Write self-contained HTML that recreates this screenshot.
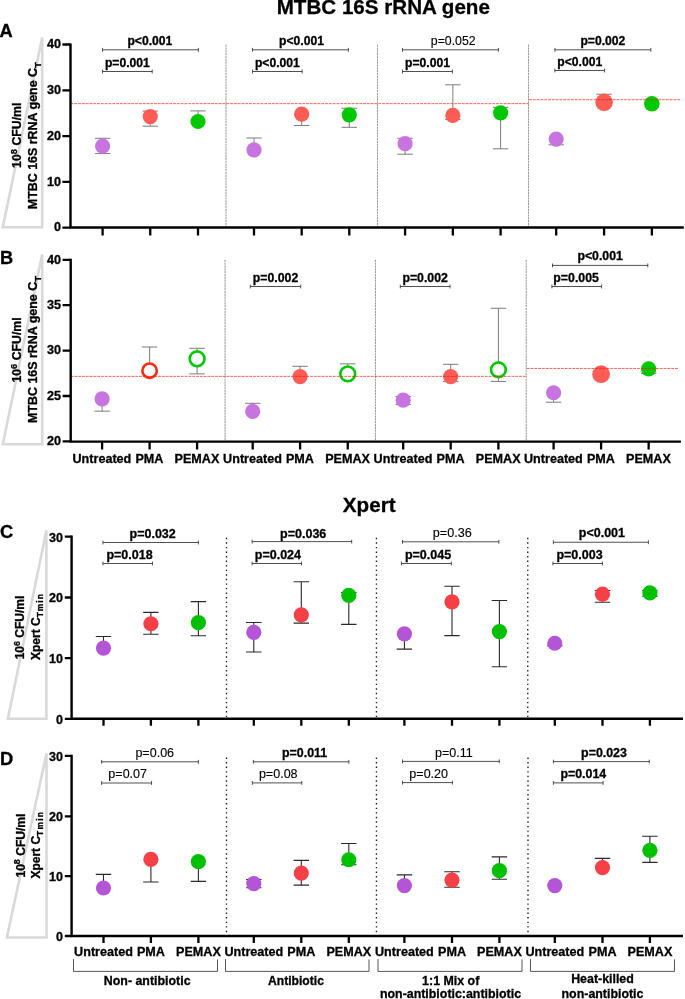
<!DOCTYPE html>
<html lang="en">
<head>
<meta charset="utf-8">
<title>MTBC 16S rRNA gene and Xpert</title>
<style>html,body{margin:0;padding:0;background:#fff}svg{display:block}</style>
</head>
<body>
<svg width="685" height="999" viewBox="0 0 685 999" font-family='"Liberation Sans", sans-serif' fill="#000">
<rect width="685" height="999" fill="#fff"/>
<text x="383.3" y="14" font-size="20.6" font-weight="bold" text-anchor="middle" stroke="#000" stroke-width="0.3">MTBC 16S rRNA gene</text>
<text x="369.2" y="511.6" font-size="20.6" font-weight="bold" text-anchor="middle" stroke="#000" stroke-width="0.3">Xpert</text>
<text x="-0.5" y="36.8" font-size="18.3" font-weight="bold" text-anchor="start" stroke="#000" stroke-width="0.3">A</text>
<text x="0" y="263.9" font-size="18.3" font-weight="bold" text-anchor="start" stroke="#000" stroke-width="0.3">B</text>
<text x="0" y="537.6" font-size="18.3" font-weight="bold" text-anchor="start" stroke="#000" stroke-width="0.3">C</text>
<text x="0" y="764.6" font-size="18.3" font-weight="bold" text-anchor="start" stroke="#000" stroke-width="0.3">D</text>
<polygon points="42.2,37.6 42.2,227.3 2.8,227.3" fill="none" stroke="#d9d9d9" stroke-width="2.6" stroke-linejoin="miter"/>
<g transform="translate(20.7,167.9) rotate(-90)">
<text x="0" y="0" font-size="12.3" font-weight="bold" text-anchor="start" stroke="#000" stroke-width="0.3">10<tspan font-size="9.3" dy="-4.1">8</tspan><tspan dy="4.1"> CFU/ml</tspan></text>
</g>
<g transform="translate(36.5,209.2) rotate(-90)">
<text x="0" y="0" font-size="12.45" font-weight="bold" text-anchor="start" stroke="#000" stroke-width="0.3">MTBC 16S rRNA gene C<tspan font-size="9.8" dy="4.0">T</tspan></text>
</g>
<line x1="226" y1="44.6" x2="226" y2="227.5" stroke="#9c9c9c" stroke-width="1.05" stroke-dasharray="2.2,0.63"/>
<line x1="377.5" y1="44.6" x2="377.5" y2="227.5" stroke="#9c9c9c" stroke-width="1.05" stroke-dasharray="2.2,0.63"/>
<line x1="528.5" y1="44.6" x2="528.5" y2="227.5" stroke="#9c9c9c" stroke-width="1.05" stroke-dasharray="2.2,0.63"/>
<path d="M102.6 138.3V153.6M94.9 138.3H110.3M94.9 153.6H110.3" stroke="#7c7c7c" stroke-width="1" fill="none"/>
<circle cx="102.6" cy="146.1" r="7.6" fill="#c774e0"/>
<path d="M150.25 111.1V126.2M142.55 111.1H157.95M142.55 126.2H157.95" stroke="#7c7c7c" stroke-width="1" fill="none"/>
<circle cx="150.25" cy="116.6" r="7.6" fill="#ff5c55"/>
<path d="M198 110.9V121.5M190.3 110.9H205.7" stroke="#7c7c7c" stroke-width="1" fill="none"/>
<circle cx="198" cy="121.5" r="7.6" fill="#00c800"/>
<path d="M254 138V149.9M246.3 138H261.7" stroke="#7c7c7c" stroke-width="1" fill="none"/>
<circle cx="254" cy="149.9" r="7.6" fill="#c774e0"/>
<path d="M301.7 114.2V125.55M294 125.55H309.4" stroke="#7c7c7c" stroke-width="1" fill="none"/>
<circle cx="301.7" cy="114.2" r="7.6" fill="#ff5c55"/>
<path d="M349.3 108.25V127.3M341.6 108.25H357M341.6 127.3H357" stroke="#7c7c7c" stroke-width="1" fill="none"/>
<circle cx="349.3" cy="114.8" r="7.6" fill="#00c800"/>
<path d="M405.1 138.25V154.2M397.4 138.25H412.8M397.4 154.2H412.8" stroke="#7c7c7c" stroke-width="1" fill="none"/>
<circle cx="405.1" cy="143.7" r="7.6" fill="#c774e0"/>
<path d="M452.85 84.8V119.5M445.15 84.8H460.55M445.15 119.5H460.55" stroke="#7c7c7c" stroke-width="1" fill="none"/>
<circle cx="452.85" cy="115.3" r="7.6" fill="#ff5c55"/>
<path d="M500.6 107.4V148.8M492.9 107.4H508.3M492.9 148.8H508.3" stroke="#7c7c7c" stroke-width="1" fill="none"/>
<circle cx="500.6" cy="112.85" r="7.6" fill="#00c800"/>
<path d="M556.2 139.1V144.8M548.5 144.8H563.9" stroke="#7c7c7c" stroke-width="1" fill="none"/>
<circle cx="556.2" cy="139.1" r="7.6" fill="#c774e0"/>
<path d="M604.1 94.25V102.35M596.4 94.25H611.8" stroke="#7c7c7c" stroke-width="1" fill="none"/>
<circle cx="604.1" cy="102.35" r="8.75" fill="#ff5c55"/>
<circle cx="651.85" cy="103.65" r="7.75" fill="#00c800"/>
<line x1="70.5" y1="103.65" x2="528.5" y2="103.65" stroke="#ff1e0f" stroke-opacity="0.7" stroke-width="1" stroke-dasharray="2.8,1"/>
<line x1="529.1" y1="99.7" x2="681.3" y2="99.7" stroke="#ff1e0f" stroke-opacity="0.7" stroke-width="1" stroke-dasharray="2.8,1"/>
<path d="M70.5 43.5V228.6M69.5 227.5H683.8" stroke="#000" stroke-width="2.4" fill="none"/>
<path d="M62.4 44.5H70.5M62.4 90.3H70.5M62.4 136.1H70.5M62.4 181.85H70.5M62.4 227.6H70.5M102.6 227.5V235.5M150.25 227.5V235.5M198 227.5V235.5M254 227.5V235.5M301.7 227.5V235.5M349.3 227.5V235.5M405.1 227.5V235.5M452.85 227.5V235.5M500.6 227.5V235.5M556.2 227.5V235.5M604.1 227.5V235.5M651.85 227.5V235.5" stroke="#000" stroke-width="2.3" fill="none"/>
<text x="61.1" y="48.2" font-size="12.6" font-weight="bold" text-anchor="end" stroke="#000" stroke-width="0.3">40</text>
<text x="61.1" y="94" font-size="12.6" font-weight="bold" text-anchor="end" stroke="#000" stroke-width="0.3">30</text>
<text x="61.1" y="139.8" font-size="12.6" font-weight="bold" text-anchor="end" stroke="#000" stroke-width="0.3">20</text>
<text x="61.1" y="185.55" font-size="12.6" font-weight="bold" text-anchor="end" stroke="#000" stroke-width="0.3">10</text>
<text x="61.1" y="231.3" font-size="12.6" font-weight="bold" text-anchor="end" stroke="#000" stroke-width="0.3">0</text>
<path d="M102.5 47.9V51.7M102.5 49.8H198.4M198.4 47.9V51.7" stroke="#3c3c3c" stroke-width="0.9" fill="none"/>
<text x="149.9" y="44.8" font-size="12.15" font-weight="bold" text-anchor="middle" stroke="#000" stroke-width="0.3">p&lt;0.001</text>
<path d="M102.5 69.6V73.4M102.5 71.5H152.2M152.2 69.6V73.4" stroke="#3c3c3c" stroke-width="0.9" fill="none"/>
<text x="127.35" y="66.5" font-size="12.15" font-weight="bold" text-anchor="middle" stroke="#000" stroke-width="0.3">p=0.001</text>
<path d="M252.5 47.9V51.7M252.5 49.8H348.4M348.4 47.9V51.7" stroke="#3c3c3c" stroke-width="0.9" fill="none"/>
<text x="301.5" y="44.8" font-size="12.15" font-weight="bold" text-anchor="middle" stroke="#000" stroke-width="0.3">p&lt;0.001</text>
<path d="M252.5 69.6V73.4M252.5 71.5H302.2M302.2 69.6V73.4" stroke="#3c3c3c" stroke-width="0.9" fill="none"/>
<text x="277.35" y="66.5" font-size="12.15" font-weight="bold" text-anchor="middle" stroke="#000" stroke-width="0.3">p&lt;0.001</text>
<path d="M402.5 47.9V51.7M402.5 49.8H498.4M498.4 47.9V51.7" stroke="#3c3c3c" stroke-width="0.9" fill="none"/>
<text x="453.25" y="45.1" font-size="12.3" font-weight="normal" text-anchor="middle" fill="#000" stroke="#000" stroke-width="0.12">p=0.052</text>
<path d="M402.5 69.6V73.4M402.5 71.5H452.4M452.4 69.6V73.4" stroke="#3c3c3c" stroke-width="0.9" fill="none"/>
<text x="427.45" y="66.5" font-size="12.15" font-weight="bold" text-anchor="middle" stroke="#000" stroke-width="0.3">p=0.001</text>
<path d="M554.9 47.9V51.7M554.9 49.8H650.8M650.8 47.9V51.7" stroke="#3c3c3c" stroke-width="0.9" fill="none"/>
<text x="602.85" y="44.8" font-size="12.15" font-weight="bold" text-anchor="middle" stroke="#000" stroke-width="0.3">p=0.002</text>
<path d="M554.9 68.6V72.4M554.9 70.5H604.6M604.6 68.6V72.4" stroke="#3c3c3c" stroke-width="0.9" fill="none"/>
<text x="579.75" y="65.5" font-size="12.15" font-weight="bold" text-anchor="middle" stroke="#000" stroke-width="0.3">p&lt;0.001</text>
<polygon points="42.2,254.4 42.2,444.3 2.8,444.3" fill="none" stroke="#d9d9d9" stroke-width="2.6" stroke-linejoin="miter"/>
<g transform="translate(20.7,382.6) rotate(-90)">
<text x="0" y="0" font-size="12.3" font-weight="bold" text-anchor="start" stroke="#000" stroke-width="0.3">10<tspan font-size="9.3" dy="-4.1">6</tspan><tspan dy="4.1"> CFU/ml</tspan></text>
</g>
<g transform="translate(36.5,423) rotate(-90)">
<text x="0" y="0" font-size="12.45" font-weight="bold" text-anchor="start" stroke="#000" stroke-width="0.3">MTBC 16S rRNA gene C<tspan font-size="9.8" dy="4.0">T</tspan></text>
</g>
<line x1="225.05" y1="259.8" x2="225.05" y2="441.6" stroke="#9c9c9c" stroke-width="1.05" stroke-dasharray="2.2,0.63"/>
<line x1="375.45" y1="259.8" x2="375.45" y2="441.6" stroke="#9c9c9c" stroke-width="1.05" stroke-dasharray="2.2,0.63"/>
<line x1="526.2" y1="259.8" x2="526.2" y2="441.6" stroke="#9c9c9c" stroke-width="1.05" stroke-dasharray="2.2,0.63"/>
<path d="M102.1 398.9V411.15M94.4 411.15H109.8" stroke="#7c7c7c" stroke-width="1" fill="none"/>
<circle cx="102.1" cy="398.9" r="7.6" fill="#c774e0"/>
<path d="M149.6 347V363.45M141.9 347H157.3" stroke="#7c7c7c" stroke-width="1" fill="none"/>
<circle cx="149.6" cy="370.65" r="7.2" fill="none" stroke="#ff2a12" stroke-width="2.6"/>
<path d="M197.1 348.3V351.4M197.1 366.2V373.9M189.4 348.3H204.8M189.4 373.9H204.8" stroke="#7c7c7c" stroke-width="1" fill="none"/>
<circle cx="197.1" cy="358.8" r="7.4" fill="none" stroke="#00c800" stroke-width="2.6"/>
<path d="M252.7 403.3V411.4M245 403.3H260.4" stroke="#7c7c7c" stroke-width="1" fill="none"/>
<circle cx="252.7" cy="411.4" r="7.6" fill="#c774e0"/>
<path d="M300.1 366.3V376.55M292.4 366.3H307.8" stroke="#7c7c7c" stroke-width="1" fill="none"/>
<circle cx="300.1" cy="376.55" r="7.6" fill="#ff5c55"/>
<path d="M347.75 363.85V366.5M340.05 363.85H355.45" stroke="#7c7c7c" stroke-width="1" fill="none"/>
<circle cx="347.75" cy="373.9" r="7.4" fill="none" stroke="#00c800" stroke-width="2.6"/>
<path d="M403.2 396.5V404.4M395.5 396.5H410.9M395.5 404.4H410.9" stroke="#7c7c7c" stroke-width="1" fill="none"/>
<circle cx="403.2" cy="400.2" r="7.6" fill="#c774e0"/>
<path d="M450.7 364.3V381.4M443 364.3H458.4M443 381.4H458.4" stroke="#7c7c7c" stroke-width="1" fill="none"/>
<circle cx="450.7" cy="376.55" r="7.6" fill="#ff5c55"/>
<path d="M498.4 308.25V362.4M498.4 377.1V381.4M490.7 308.25H506.1M490.7 381.4H506.1" stroke="#7c7c7c" stroke-width="1" fill="none"/>
<circle cx="498.4" cy="369.75" r="7.35" fill="none" stroke="#00c800" stroke-width="2.6"/>
<path d="M553.6 392.75V402.2M545.9 402.2H561.3" stroke="#7c7c7c" stroke-width="1" fill="none"/>
<circle cx="553.6" cy="392.75" r="7.6" fill="#c774e0"/>
<circle cx="601.1" cy="374.15" r="8.85" fill="#ff5c55"/>
<path d="M648.65 368.9V373.3M640.95 373.3H656.35" stroke="#7c7c7c" stroke-width="1" fill="none"/>
<circle cx="648.65" cy="368.9" r="7.6" fill="#00c800"/>
<line x1="70.7" y1="376.35" x2="526.2" y2="376.35" stroke="#ff1e0f" stroke-opacity="0.7" stroke-width="1" stroke-dasharray="2.8,1"/>
<line x1="526.8" y1="368.45" x2="677.8" y2="368.45" stroke="#ff1e0f" stroke-opacity="0.7" stroke-width="1" stroke-dasharray="2.8,1"/>
<path d="M70.7 258.7V442.7M69.7 441.6H680.9" stroke="#000" stroke-width="2.4" fill="none"/>
<path d="M62.6 259.8H70.7M62.6 305.2H70.7M62.6 350.6H70.7M62.6 396H70.7M62.6 441.4H70.7M102.1 441.6V449.6M149.6 441.6V449.6M197.1 441.6V449.6M252.7 441.6V449.6M300.1 441.6V449.6M347.75 441.6V449.6M403.2 441.6V449.6M450.7 441.6V449.6M498.4 441.6V449.6M553.6 441.6V449.6M601.1 441.6V449.6M648.65 441.6V449.6" stroke="#000" stroke-width="2.3" fill="none"/>
<text x="61.1" y="263.5" font-size="12.6" font-weight="bold" text-anchor="end" stroke="#000" stroke-width="0.3">40</text>
<text x="61.1" y="308.9" font-size="12.6" font-weight="bold" text-anchor="end" stroke="#000" stroke-width="0.3">35</text>
<text x="61.1" y="354.3" font-size="12.6" font-weight="bold" text-anchor="end" stroke="#000" stroke-width="0.3">30</text>
<text x="61.1" y="399.7" font-size="12.6" font-weight="bold" text-anchor="end" stroke="#000" stroke-width="0.3">25</text>
<text x="61.1" y="445.1" font-size="12.6" font-weight="bold" text-anchor="end" stroke="#000" stroke-width="0.3">20</text>
<path d="M250.3 284.6V288.4M250.3 286.5H300.7M300.7 284.6V288.4" stroke="#3c3c3c" stroke-width="0.9" fill="none"/>
<text x="275.5" y="281.5" font-size="12.3" font-weight="bold" text-anchor="middle" stroke="#000" stroke-width="0.3">p=0.002</text>
<path d="M400.3 284.6V288.4M400.3 286.5H450M450 284.6V288.4" stroke="#3c3c3c" stroke-width="0.9" fill="none"/>
<text x="425.15" y="281.5" font-size="12.3" font-weight="bold" text-anchor="middle" stroke="#000" stroke-width="0.3">p=0.002</text>
<path d="M552.5 263.5V267.3M552.5 265.4H647.8M647.8 263.5V267.3" stroke="#3c3c3c" stroke-width="0.9" fill="none"/>
<text x="600.15" y="260.4" font-size="12.3" font-weight="bold" text-anchor="middle" stroke="#000" stroke-width="0.3">p&lt;0.001</text>
<path d="M551.9 284.6V288.4M551.9 286.5H601.6M601.6 284.6V288.4" stroke="#3c3c3c" stroke-width="0.9" fill="none"/>
<text x="576.1" y="281.5" font-size="12.3" font-weight="bold" text-anchor="middle" stroke="#000" stroke-width="0.3">p=0.005</text>
<text x="101.9" y="463.3" font-size="12.6" font-weight="bold" text-anchor="middle" stroke="#000" stroke-width="0.3">Untreated</text>
<text x="149.4" y="463.3" font-size="12.6" font-weight="bold" text-anchor="middle" stroke="#000" stroke-width="0.3">PMA</text>
<text x="196.9" y="463.3" font-size="12.6" font-weight="bold" text-anchor="middle" stroke="#000" stroke-width="0.3">PEMAX</text>
<text x="252.5" y="463.3" font-size="12.6" font-weight="bold" text-anchor="middle" stroke="#000" stroke-width="0.3">Untreated</text>
<text x="299.9" y="463.3" font-size="12.6" font-weight="bold" text-anchor="middle" stroke="#000" stroke-width="0.3">PMA</text>
<text x="347.55" y="463.3" font-size="12.6" font-weight="bold" text-anchor="middle" stroke="#000" stroke-width="0.3">PEMAX</text>
<text x="403" y="463.3" font-size="12.6" font-weight="bold" text-anchor="middle" stroke="#000" stroke-width="0.3">Untreated</text>
<text x="450.5" y="463.3" font-size="12.6" font-weight="bold" text-anchor="middle" stroke="#000" stroke-width="0.3">PMA</text>
<text x="498.2" y="463.3" font-size="12.6" font-weight="bold" text-anchor="middle" stroke="#000" stroke-width="0.3">PEMAX</text>
<text x="553.4" y="463.3" font-size="12.6" font-weight="bold" text-anchor="middle" stroke="#000" stroke-width="0.3">Untreated</text>
<text x="600.9" y="463.3" font-size="12.6" font-weight="bold" text-anchor="middle" stroke="#000" stroke-width="0.3">PMA</text>
<text x="648.45" y="463.3" font-size="12.6" font-weight="bold" text-anchor="middle" stroke="#000" stroke-width="0.3">PEMAX</text>
<polygon points="46.4,530.3 46.4,718.8 7.9,718.8" fill="none" stroke="#d9d9d9" stroke-width="2.6" stroke-linejoin="miter"/>
<g transform="translate(24.0,659.3) rotate(-90)">
<text x="0" y="0" font-size="12.0" font-weight="bold" text-anchor="start" stroke="#000" stroke-width="0.3">10<tspan font-size="8.9" dy="-4.1">6</tspan><tspan dy="4.1"> CFU/ml</tspan></text>
</g>
<g transform="translate(39.6,660) rotate(-90)">
<text x="0" y="0" font-size="12.0" font-weight="bold" text-anchor="start" stroke="#000" stroke-width="0.3">Xpert C<tspan font-size="8.4" dy="3.6" letter-spacing="1.05">Tmin</tspan></text>
</g>
<line x1="226.5" y1="537.8" x2="226.5" y2="717" stroke="#1a1a1a" stroke-width="1.35" stroke-dasharray="1.4,3.16"/>
<line x1="376.45" y1="537.8" x2="376.45" y2="717" stroke="#1a1a1a" stroke-width="1.35" stroke-dasharray="1.4,3.16"/>
<line x1="527.75" y1="537.8" x2="527.75" y2="717" stroke="#1a1a1a" stroke-width="1.35" stroke-dasharray="1.4,3.16"/>
<path d="M103.5 636.45V648.05M95.8 636.45H111.2" stroke="#2a2a2a" stroke-width="1.1" fill="none"/>
<circle cx="103.5" cy="648.05" r="7.6" fill="#b455d7"/>
<path d="M150.9 612.35V634.25M143.2 612.35H158.6M143.2 634.25H158.6" stroke="#2a2a2a" stroke-width="1.1" fill="none"/>
<circle cx="150.9" cy="623.75" r="7.6" fill="#f74046"/>
<path d="M198.4 601.65V635.8M190.7 601.65H206.1M190.7 635.8H206.1" stroke="#2a2a2a" stroke-width="1.1" fill="none"/>
<circle cx="198.4" cy="622.65" r="7.6" fill="#00c000"/>
<path d="M253.8 622.45V652M246.1 622.45H261.5M246.1 652H261.5" stroke="#2a2a2a" stroke-width="1.1" fill="none"/>
<circle cx="253.8" cy="632.3" r="7.6" fill="#b455d7"/>
<path d="M301.3 581.7V623.1M293.6 581.7H309M293.6 623.1H309" stroke="#2a2a2a" stroke-width="1.1" fill="none"/>
<circle cx="301.3" cy="614.8" r="7.6" fill="#f74046"/>
<path d="M348.8 592.6V624.4M341.1 592.6H356.5M341.1 624.4H356.5" stroke="#2a2a2a" stroke-width="1.1" fill="none"/>
<circle cx="348.8" cy="595.3" r="7.6" fill="#00c000"/>
<path d="M404.4 633.8V649.15M396.7 649.15H412.1" stroke="#2a2a2a" stroke-width="1.1" fill="none"/>
<circle cx="404.4" cy="633.8" r="7.6" fill="#b455d7"/>
<path d="M452 586.3V635.6M444.3 586.3H459.7M444.3 635.6H459.7" stroke="#2a2a2a" stroke-width="1.1" fill="none"/>
<circle cx="452" cy="601.85" r="7.6" fill="#f74046"/>
<path d="M499.4 600.55V666.7M491.7 600.55H507.1M491.7 666.7H507.1" stroke="#2a2a2a" stroke-width="1.1" fill="none"/>
<circle cx="499.4" cy="631.6" r="7.6" fill="#00c000"/>
<path d="M554.8 643.25V645.8M547.1 645.8H562.5" stroke="#2a2a2a" stroke-width="1.1" fill="none"/>
<circle cx="554.8" cy="643.25" r="7.6" fill="#b455d7"/>
<path d="M602.5 590.5V602.3M594.8 590.5H610.2M594.8 602.3H610.2" stroke="#2a2a2a" stroke-width="1.1" fill="none"/>
<circle cx="602.5" cy="594.2" r="7.6" fill="#f74046"/>
<path d="M649.9 590.7V596.2M642.2 590.7H657.6M642.2 596.2H657.6" stroke="#2a2a2a" stroke-width="1.1" fill="none"/>
<circle cx="649.9" cy="592.9" r="7.6" fill="#00c000"/>
<path d="M71.6 535.5V719.9M70.6 718.8H683" stroke="#000" stroke-width="2.4" fill="none"/>
<path d="M64.8 536.6H71.6M64.8 597.5H71.6M64.8 658.2H71.6M64.8 718.8H71.6M103.5 718.8V725.7M150.9 718.8V725.7M198.4 718.8V725.7M253.8 718.8V725.7M301.3 718.8V725.7M348.8 718.8V725.7M404.4 718.8V725.7M452 718.8V725.7M499.4 718.8V725.7M554.8 718.8V725.7M602.5 718.8V725.7M649.9 718.8V725.7" stroke="#000" stroke-width="2.3" fill="none"/>
<text x="62.9" y="541.5" font-size="12.5" font-weight="bold" text-anchor="end" stroke="#000" stroke-width="0.3">30</text>
<text x="62.9" y="602.4" font-size="12.5" font-weight="bold" text-anchor="end" stroke="#000" stroke-width="0.3">20</text>
<text x="62.9" y="663.1" font-size="12.5" font-weight="bold" text-anchor="end" stroke="#000" stroke-width="0.3">10</text>
<text x="62.9" y="723.7" font-size="12.5" font-weight="bold" text-anchor="end" stroke="#000" stroke-width="0.3">0</text>
<path d="M102.95 540.6V544.4M102.95 542.5H198.4M198.4 540.6V544.4" stroke="#3c3c3c" stroke-width="0.9" fill="none"/>
<text x="152.65" y="537.5" font-size="12.5" font-weight="bold" text-anchor="middle" stroke="#000" stroke-width="0.3">p=0.032</text>
<path d="M102.95 561.6V565.4M102.95 563.5H152.45M152.45 561.6V565.4" stroke="#3c3c3c" stroke-width="0.9" fill="none"/>
<text x="129.5" y="558.5" font-size="12.5" font-weight="bold" text-anchor="middle" stroke="#000" stroke-width="0.3">p=0.018</text>
<path d="M252.1 539.7V543.5M252.1 541.6H351.7M351.7 539.7V543.5" stroke="#3c3c3c" stroke-width="0.9" fill="none"/>
<text x="303.2" y="538.1" font-size="12.5" font-weight="bold" text-anchor="middle" stroke="#000" stroke-width="0.3">p=0.036</text>
<path d="M252.1 561.6V565.4M252.1 563.5H301.55M301.55 561.6V565.4" stroke="#3c3c3c" stroke-width="0.9" fill="none"/>
<text x="277.9" y="558.5" font-size="12.5" font-weight="bold" text-anchor="middle" stroke="#000" stroke-width="0.3">p=0.024</text>
<path d="M402.5 539.9V543.7M402.5 541.8H498.85M498.85 539.9V543.7" stroke="#3c3c3c" stroke-width="0.9" fill="none"/>
<text x="452.3" y="537.1" font-size="12.65" font-weight="normal" text-anchor="middle" fill="#000" stroke="#000" stroke-width="0.12">p=0.36</text>
<path d="M401.4 561.6V565.4M401.4 563.5H451.35M451.35 561.6V565.4" stroke="#3c3c3c" stroke-width="0.9" fill="none"/>
<text x="428" y="558.5" font-size="12.5" font-weight="bold" text-anchor="middle" stroke="#000" stroke-width="0.3">p=0.045</text>
<path d="M553.4 540.35V544.15M553.4 542.25H648.4M648.4 540.35V544.15" stroke="#3c3c3c" stroke-width="0.9" fill="none"/>
<text x="601.9" y="537.25" font-size="12.5" font-weight="bold" text-anchor="middle" stroke="#000" stroke-width="0.3">p&lt;0.001</text>
<path d="M552.95 561.6V565.4M552.95 563.5H602.45M602.45 561.6V565.4" stroke="#3c3c3c" stroke-width="0.9" fill="none"/>
<text x="579.5" y="558.5" font-size="12.5" font-weight="bold" text-anchor="middle" stroke="#000" stroke-width="0.3">p=0.003</text>
<polygon points="46.5,753.3 46.5,937.5 6.9,937.5" fill="none" stroke="#d9d9d9" stroke-width="2.6" stroke-linejoin="miter"/>
<g transform="translate(24.5,877.6) rotate(-90)">
<text x="0" y="0" font-size="12.1" font-weight="bold" text-anchor="start" stroke="#000" stroke-width="0.3">10<tspan font-size="8.9" dy="-4.1">8</tspan><tspan dy="4.1"> CFU/ml</tspan></text>
</g>
<g transform="translate(39.6,878.6) rotate(-90)">
<text x="0" y="0" font-size="12.0" font-weight="bold" text-anchor="start" stroke="#000" stroke-width="0.3">Xpert C<tspan font-size="8.4" dy="3.6" letter-spacing="1.25">Tmin</tspan></text>
</g>
<line x1="226.5" y1="757.5" x2="226.5" y2="933.5" stroke="#1a1a1a" stroke-width="1.35" stroke-dasharray="1.4,3.16"/>
<line x1="376.45" y1="757.5" x2="376.45" y2="933.5" stroke="#1a1a1a" stroke-width="1.35" stroke-dasharray="1.4,3.16"/>
<line x1="528" y1="757.5" x2="528" y2="933.5" stroke="#1a1a1a" stroke-width="1.35" stroke-dasharray="1.4,3.16"/>
<path d="M103.5 874.4V888M95.8 874.4H111.2" stroke="#2a2a2a" stroke-width="1.1" fill="none"/>
<circle cx="103.5" cy="888" r="7.6" fill="#b455d7"/>
<path d="M150.9 859.3V882.05M143.2 882.05H158.6" stroke="#2a2a2a" stroke-width="1.1" fill="none"/>
<circle cx="150.9" cy="859.3" r="7.6" fill="#f74046"/>
<path d="M198.4 861.7V881.4M190.7 881.4H206.1" stroke="#2a2a2a" stroke-width="1.1" fill="none"/>
<circle cx="198.4" cy="861.7" r="7.6" fill="#00c000"/>
<path d="M253.8 879.45V887.75M246.1 879.45H261.5M246.1 887.75H261.5" stroke="#2a2a2a" stroke-width="1.1" fill="none"/>
<circle cx="253.8" cy="883.6" r="7.6" fill="#b455d7"/>
<path d="M301.3 860.4V885.15M293.6 860.4H309M293.6 885.15H309" stroke="#2a2a2a" stroke-width="1.1" fill="none"/>
<circle cx="301.3" cy="873.1" r="7.6" fill="#f74046"/>
<path d="M348.8 843.55V864.8M341.1 843.55H356.5M341.1 864.8H356.5" stroke="#2a2a2a" stroke-width="1.1" fill="none"/>
<circle cx="348.8" cy="859.75" r="7.6" fill="#00c000"/>
<path d="M404.4 874.85V885.55M396.7 874.85H412.1" stroke="#2a2a2a" stroke-width="1.1" fill="none"/>
<circle cx="404.4" cy="885.55" r="7.6" fill="#b455d7"/>
<path d="M452 871.8V887.3M444.3 871.8H459.7M444.3 887.3H459.7" stroke="#2a2a2a" stroke-width="1.1" fill="none"/>
<circle cx="452" cy="880.1" r="7.6" fill="#f74046"/>
<path d="M499.4 856.9V879.2M491.7 856.9H507.1M491.7 879.2H507.1" stroke="#2a2a2a" stroke-width="1.1" fill="none"/>
<circle cx="499.4" cy="870.7" r="7.6" fill="#00c000"/>
<circle cx="554.8" cy="885.55" r="7.6" fill="#b455d7"/>
<path d="M602.5 858.4V867.6M594.8 858.4H610.2" stroke="#2a2a2a" stroke-width="1.1" fill="none"/>
<circle cx="602.5" cy="867.6" r="7.6" fill="#f74046"/>
<path d="M649.9 836.3V862.35M642.2 836.3H657.6M642.2 862.35H657.6" stroke="#2a2a2a" stroke-width="1.1" fill="none"/>
<circle cx="649.9" cy="850.3" r="7.6" fill="#00c000"/>
<path d="M71.6 754.8V937.1M70.6 936H683" stroke="#000" stroke-width="2.4" fill="none"/>
<path d="M64.8 755.9H71.6M64.8 816.3H71.6M64.8 876.1H71.6M64.8 936H71.6M103.5 936V942.9M150.9 936V942.9M198.4 936V942.9M253.8 936V942.9M301.3 936V942.9M348.8 936V942.9M404.4 936V942.9M452 936V942.9M499.4 936V942.9M554.8 936V942.9M602.5 936V942.9M649.9 936V942.9" stroke="#000" stroke-width="2.3" fill="none"/>
<text x="63" y="760.8" font-size="12.5" font-weight="bold" text-anchor="end" stroke="#000" stroke-width="0.3">30</text>
<text x="63" y="821.2" font-size="12.5" font-weight="bold" text-anchor="end" stroke="#000" stroke-width="0.3">20</text>
<text x="63" y="881" font-size="12.5" font-weight="bold" text-anchor="end" stroke="#000" stroke-width="0.3">10</text>
<text x="63" y="940.9" font-size="12.5" font-weight="bold" text-anchor="end" stroke="#000" stroke-width="0.3">0</text>
<path d="M101.65 759.9V763.7M101.65 761.8H198.4M198.4 759.9V763.7" stroke="#3c3c3c" stroke-width="0.9" fill="none"/>
<text x="154.75" y="757.1" font-size="12.55" font-weight="normal" text-anchor="middle" fill="#000" stroke="#000" stroke-width="0.12">p=0.06</text>
<path d="M101.65 781.1V784.9M101.65 783H151.55M151.55 781.1V784.9" stroke="#3c3c3c" stroke-width="0.9" fill="none"/>
<text x="127.7" y="778.3" font-size="12.55" font-weight="normal" text-anchor="middle" fill="#000" stroke="#000" stroke-width="0.12">p=0.07</text>
<path d="M253.4 759.9V763.7M253.4 761.8H348.85M348.85 759.9V763.7" stroke="#3c3c3c" stroke-width="0.9" fill="none"/>
<text x="304.6" y="756.6" font-size="12.4" font-weight="bold" text-anchor="middle" stroke="#000" stroke-width="0.3">p=0.011</text>
<path d="M252.3 781V784.8M252.3 782.9H301.8M301.8 781V784.8" stroke="#3c3c3c" stroke-width="0.9" fill="none"/>
<text x="278.25" y="778.2" font-size="12.55" font-weight="normal" text-anchor="middle" fill="#000" stroke="#000" stroke-width="0.12">p=0.08</text>
<path d="M402.5 759.5V763.3M402.5 761.4H499.3M499.3 759.5V763.3" stroke="#3c3c3c" stroke-width="0.9" fill="none"/>
<text x="453.95" y="756.7" font-size="12.55" font-weight="normal" text-anchor="middle" fill="#000" stroke="#000" stroke-width="0.12">p=0.11</text>
<path d="M402.5 780.7V784.5M402.5 782.6H452.45M452.45 780.7V784.5" stroke="#3c3c3c" stroke-width="0.9" fill="none"/>
<text x="428.7" y="777.9" font-size="12.55" font-weight="normal" text-anchor="middle" fill="#000" stroke="#000" stroke-width="0.12">p=0.20</text>
<path d="M553.4 759.7V763.5M553.4 761.6H649.3M649.3 759.7V763.5" stroke="#3c3c3c" stroke-width="0.9" fill="none"/>
<text x="604" y="756.6" font-size="12.4" font-weight="bold" text-anchor="middle" stroke="#000" stroke-width="0.3">p=0.023</text>
<path d="M553.4 781V784.8M553.4 782.9H603.1M603.1 781V784.8" stroke="#3c3c3c" stroke-width="0.9" fill="none"/>
<text x="583.3" y="777.9" font-size="12.4" font-weight="bold" text-anchor="middle" stroke="#000" stroke-width="0.3">p=0.014</text>
<text x="103.5" y="955.8" font-size="12.6" font-weight="bold" text-anchor="middle" stroke="#000" stroke-width="0.3">Untreated</text>
<text x="150.9" y="955.8" font-size="12.6" font-weight="bold" text-anchor="middle" stroke="#000" stroke-width="0.3">PMA</text>
<text x="198.4" y="955.8" font-size="12.6" font-weight="bold" text-anchor="middle" stroke="#000" stroke-width="0.3">PEMAX</text>
<text x="253.8" y="955.8" font-size="12.6" font-weight="bold" text-anchor="middle" stroke="#000" stroke-width="0.3">Untreated</text>
<text x="301.3" y="955.8" font-size="12.6" font-weight="bold" text-anchor="middle" stroke="#000" stroke-width="0.3">PMA</text>
<text x="348.8" y="955.8" font-size="12.6" font-weight="bold" text-anchor="middle" stroke="#000" stroke-width="0.3">PEMAX</text>
<text x="404.4" y="955.8" font-size="12.6" font-weight="bold" text-anchor="middle" stroke="#000" stroke-width="0.3">Untreated</text>
<text x="452" y="955.8" font-size="12.6" font-weight="bold" text-anchor="middle" stroke="#000" stroke-width="0.3">PMA</text>
<text x="499.4" y="955.8" font-size="12.6" font-weight="bold" text-anchor="middle" stroke="#000" stroke-width="0.3">PEMAX</text>
<text x="554.8" y="955.8" font-size="12.6" font-weight="bold" text-anchor="middle" stroke="#000" stroke-width="0.3">Untreated</text>
<text x="602.5" y="955.8" font-size="12.6" font-weight="bold" text-anchor="middle" stroke="#000" stroke-width="0.3">PMA</text>
<text x="649.9" y="955.8" font-size="12.6" font-weight="bold" text-anchor="middle" stroke="#000" stroke-width="0.3">PEMAX</text>
<path d="M73.5 959V971.4H217.5V959.4" stroke="#555" stroke-width="1" fill="none"/>
<path d="M225.5 959V971.4H369V959.4" stroke="#555" stroke-width="1" fill="none"/>
<path d="M378 959V971.4H522V959.4" stroke="#555" stroke-width="1" fill="none"/>
<path d="M530.5 959V971.4H674.5V959.4" stroke="#555" stroke-width="1" fill="none"/>
<text x="147.2" y="985" font-size="12.4" font-weight="bold" text-anchor="middle" stroke="#000" stroke-width="0.3">Non- antibiotic</text>
<text x="296" y="985" font-size="12.1" font-weight="bold" text-anchor="middle" stroke="#000" stroke-width="0.3">Antibiotic</text>
<text x="450.7" y="984.6" font-size="12.4" font-weight="bold" text-anchor="middle" stroke="#000" stroke-width="0.3">1:1 Mix of</text>
<text x="450.5" y="998.3" font-size="12.4" font-weight="bold" text-anchor="middle" stroke="#000" stroke-width="0.3">non-antibiotic:antibiotic</text>
<text x="602.5" y="983.2" font-size="12.4" font-weight="bold" text-anchor="middle" stroke="#000" stroke-width="0.3">Heat-killed</text>
<text x="602.5" y="997.6" font-size="12.4" font-weight="bold" text-anchor="middle" stroke="#000" stroke-width="0.3">non-antibiotic</text>
</svg>
</body>
</html>
